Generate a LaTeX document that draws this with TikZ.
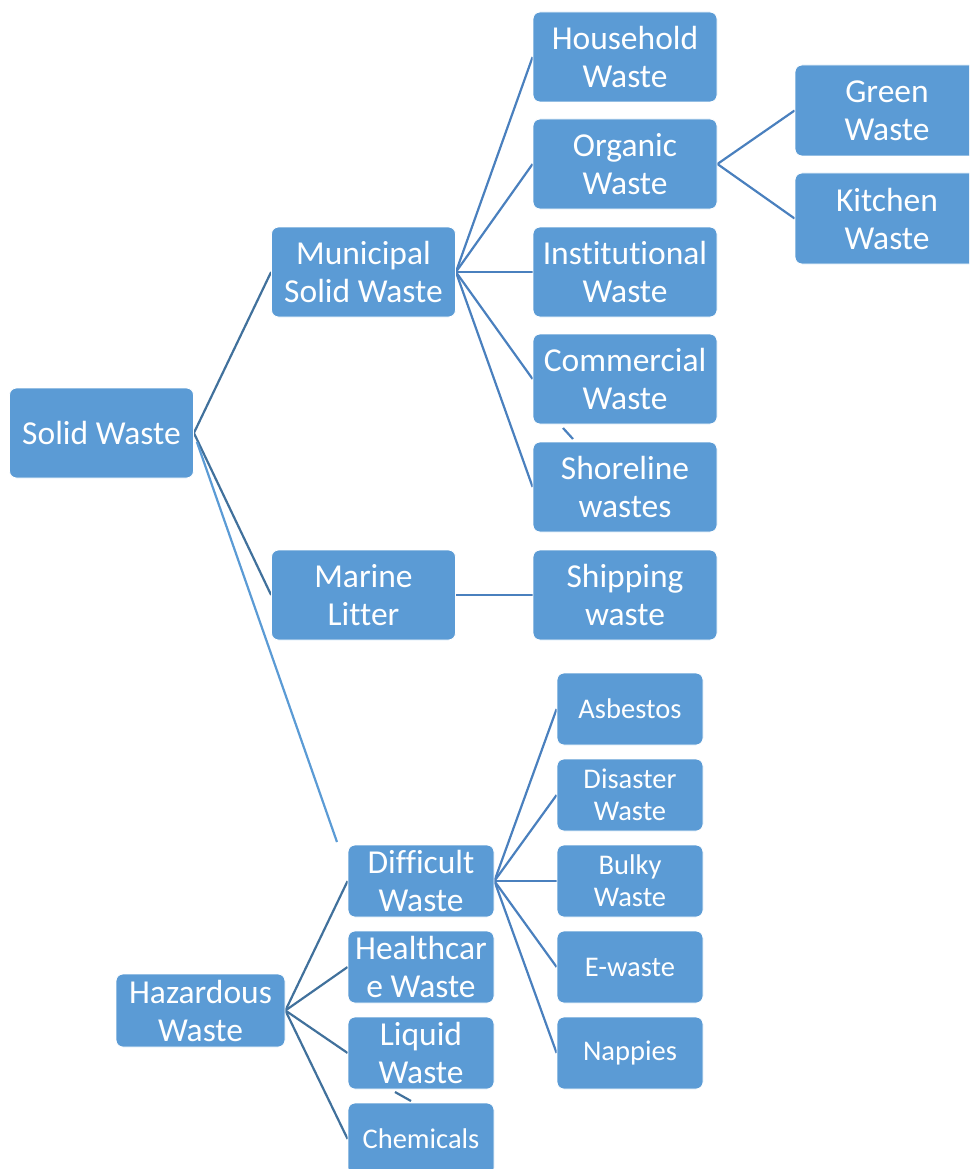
\documentclass[tikz,border=0pt]{standalone}
\usepackage{fontspec}
\setmainfont{Carlito}[Ligatures=NoCommon]
\usetikzlibrary{backgrounds}
\definecolor{boxblue}{HTML}{5B9BD5}
\definecolor{linkdark}{HTML}{41719C}
\definecolor{linkmid}{HTML}{4A80BE}
\definecolor{linklight}{HTML}{5B9BD5}

\begin{document}
\begin{tikzpicture}[x=1pt,y=-1pt,
    wastebox/.style={fill=boxblue,draw=white,line width=0.8pt,rounded corners=7pt,
      text=white,align=center,inner sep=0pt,minimum width=184pt,minimum height=90pt,
      font=\fontsize{33.5}{38}\selectfont},
    smallbox/.style={wastebox,minimum width=146pt,minimum height=72pt},
    smallword/.style={smallbox,font=\fontsize{28.5}{32}\selectfont},
    link/.style={linkmid,line width=2.2pt},
    darklink/.style={link,draw=linkdark}]
  \useasboundingbox (0,0) rectangle (969,1169);
  \clip (0,0) rectangle (969,1169);
  % root and first level
  \node[wastebox] (solid) at (101.5,433) {Solid Waste};
  \node[wastebox] (mun) at (363.5,272) {Municipal\\Solid Waste};
  \node[wastebox] (marine) at (363.5,595) {Marine\\Litter};
  \node[wastebox,minimum width=169pt,minimum height=73pt] (haz) at (200.5,1010.5) {Hazardous\\Waste};
  % municipal solid waste
  \node[wastebox] (house) at (625,57) {Household\\Waste};
  \node[wastebox] (organic) at (625,164) {Organic\\Waste};
  \node[wastebox] (inst) at (625,272) {Institutional\\Waste};
  \node[wastebox] (comm) at (625,379) {Commercial\\Waste};
  \node[wastebox] (shore) at (625,487) {Shoreline\\wastes};
  \node[wastebox] (ship) at (625,595) {Shipping\\waste};
  \node[wastebox,minimum height=91pt] (green) at (887,110.5) {Green\\Waste};
  \node[wastebox,minimum height=91pt] (kitchen) at (887,218.5) {Kitchen\\Waste};
  % hazardous waste
  \node[smallbox] (diff) at (421,881) {Difficult\\Waste};
  \node[smallbox] (health) at (421,967) {Healthcar\\e Waste};
  \node[smallbox] (liquid) at (421,1053) {Liquid\\Waste};
  \node[smallword] (chem) at (421,1139) {Chemicals};
  \node[smallword] (asb) at (630,709) {Asbestos};
  \node[smallword] (disaster) at (630,795) {Disaster\\Waste};
  \node[smallword] (bulky) at (630,881) {Bulky\\Waste};
  \node[smallword] (ewaste) at (630,967) {E-waste};
  \node[smallword] (nappy) at (630,1053) {Nappies};
  \coordinate (loose) at (337,842);
  \coordinate (tickA) at (563,428);
  \coordinate (tickB) at (573,439);
  \coordinate (tickC) at (395,1092);
  \coordinate (tickD) at (411,1101);
  \begin{scope}[on background layer]
    \draw[darklink] (solid.east) -- (mun.west);
    \draw[darklink] (solid.east) -- (marine.west);
    \draw[link,draw=linklight] ([shift={(3,9)}]solid.east) -- (loose);
    \foreach \kid in {house,organic,inst,comm,shore}
      \draw[link] (mun.east) -- (\kid.west);
    \draw[link] (tickA) -- (tickB);
    \draw[link] (marine.east) -- (ship.west);
    \draw[link] (organic.east) -- (green.west);
    \draw[link] (organic.east) -- (kitchen.west);
    \foreach \kid in {diff,health,liquid,chem}
      \draw[darklink] (haz.east) -- (\kid.west);
    \draw[darklink] (tickC) -- (tickD);
    \foreach \kid in {asb,disaster,bulky,ewaste,nappy}
      \draw[link] (diff.east) -- (\kid.west);
  \end{scope}
\end{tikzpicture}
\end{document}
